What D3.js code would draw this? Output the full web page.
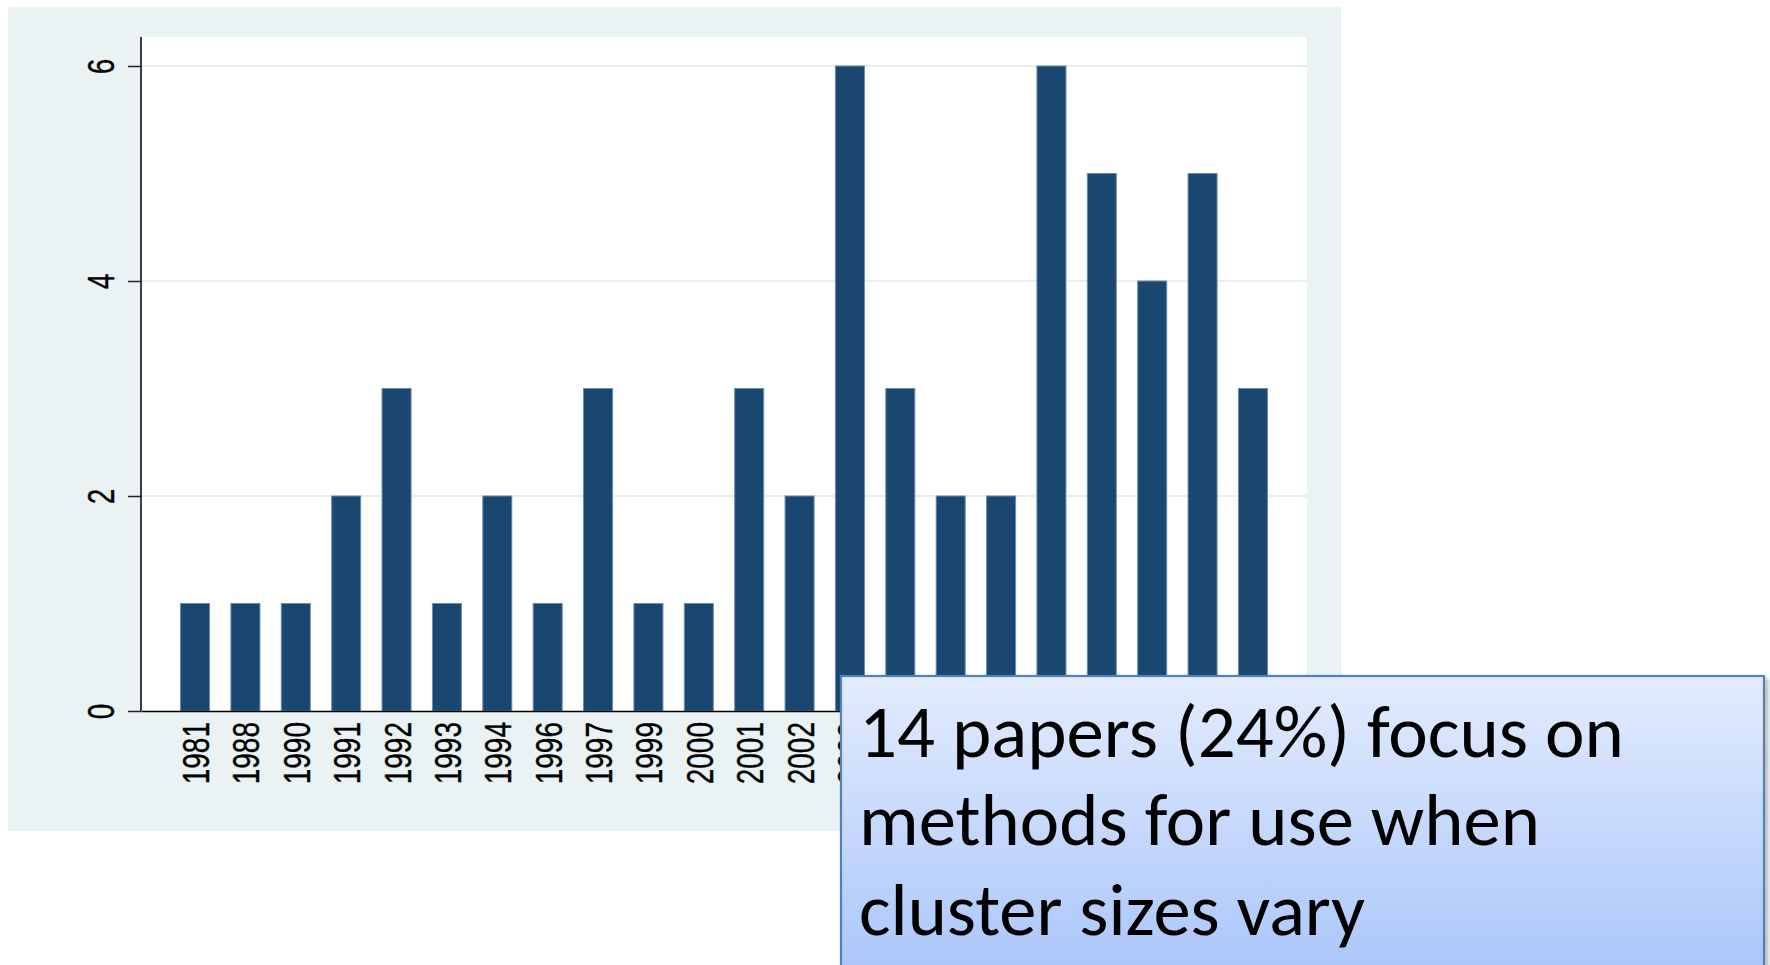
<!DOCTYPE html>
<html>
<head>
<meta charset="utf-8">
<script src="https://cdn.jsdelivr.net/npm/d3@7"></script>
<style>
  html, body { margin: 0; padding: 0; background: #ffffff; }
  svg { display: block; }
</style>
</head>
<body>
<svg id="chart" width="1770" height="965"></svg>
<script>
// ---- data ----
const years = ["1981","1988","1990","1991","1992","1993","1994","1996","1997","1999","2000","2001","2002","2003","2004","2005","2006","2007","2008","2009","2010","2011"];
const counts = [1,1,1,2,3,1,2,1,3,1,1,3,2,6,3,2,2,6,5,4,5,3];
const yTicks = [0,2,4,6];
const calloutLines = ["14 papers (24%) focus on", "methods for use when", "cluster sizes vary"];

// ---- layout ----
const panel = {x: 8, y: 7, w: 1333, h: 824};
const plot = {left: 141, right: 1307, top: 37, bottom: 711};
const svg = d3.select("#chart");

const defs = svg.append("defs");
const grad = defs.append("linearGradient").attr("id","boxgrad").attr("x1",0).attr("y1",0).attr("x2",0).attr("y2",1);
grad.append("stop").attr("offset","0%").attr("stop-color","#e3ecfd");
grad.append("stop").attr("offset","100%").attr("stop-color","#a6c3fa");
const shadow = defs.append("filter").attr("id","shadow").attr("x","-5%").attr("y","-5%").attr("width","115%").attr("height","115%");
shadow.append("feDropShadow").attr("dx",3).attr("dy",3).attr("stdDeviation",2).attr("flood-color","#000").attr("flood-opacity",0.3);

// graph region background
svg.append("rect").attr("x",panel.x).attr("y",panel.y).attr("width",panel.w).attr("height",panel.h).attr("fill","#eaf2f3");
// plot region
svg.append("rect").attr("x",plot.left).attr("y",plot.top).attr("width",plot.right-plot.left).attr("height",plot.bottom-plot.top).attr("fill","#ffffff");

// scales
const x = d3.scaleBand().domain(years).range([plot.left, plot.right]).paddingInner(0.404).paddingOuter(0.775);
const y = d3.scaleLinear().domain([0,6]).range([plot.bottom, 66]);

// grid
svg.append("g").selectAll("line").data(yTicks.filter(d => d > 0)).join("line")
  .attr("x1", plot.left).attr("x2", plot.right)
  .attr("y1", d => y(d)).attr("y2", d => y(d))
  .attr("stroke","#e6eff1").attr("stroke-width",2);

// bars
svg.append("g").selectAll("rect").data(years.map((yr,i)=>({yr, v: counts[i]}))).join("rect")
  .attr("x", d => x(d.yr) + 0.5)
  .attr("y", d => y(d.v))
  .attr("width", x.bandwidth() - 1)
  .attr("height", d => y(0) - y(d.v))
  .attr("fill","#1a476f")
  .attr("stroke","#6a8cae").attr("stroke-width",1);

const labelFont = "'Liberation Sans', Arial, Helvetica, sans-serif";
const sx = 1.35;

// y axis
const yAxis = svg.append("g").attr("transform",`translate(${plot.left},0)`)
  .call(d3.axisLeft(y).tickValues(yTicks).tickSize(13).tickFormat(d3.format("d")));
yAxis.select(".domain").remove();
yAxis.selectAll(".tick line").attr("stroke","#222").attr("stroke-width",1.5);
yAxis.selectAll(".tick text")
  .attr("x", null).attr("dy", null)
  .attr("transform", `translate(-27,0) scale(${sx},1) rotate(-90)`)
  .attr("text-anchor","middle")
  .attr("font-family", labelFont).attr("font-size", 28).attr("fill","#000")
  .attr("stroke","#000").attr("stroke-width",0.3);
svg.append("line").attr("x1",plot.left).attr("x2",plot.left).attr("y1",plot.top).attr("y2",plot.bottom)
  .attr("stroke","#000").attr("stroke-width",1.5);

// x axis
const xAxis = svg.append("g").attr("transform",`translate(0,${plot.bottom})`)
  .call(d3.axisBottom(x).tickSize(0).tickSizeOuter(0));
xAxis.select(".domain").attr("stroke","#000").attr("stroke-width",1.5);
xAxis.selectAll(".tick text")
  .attr("y", null).attr("dy", null)
  .attr("transform", `translate(14,11) scale(${sx},1) rotate(-90)`)
  .attr("text-anchor","end")
  .attr("font-family", labelFont).attr("font-size", 28).attr("fill","#000")
  .attr("stroke","#000").attr("stroke-width",0.3);

// callout box
const box = {x: 841, y: 676, w: 923, h: 320};
svg.append("rect").attr("x",box.x).attr("y",box.y).attr("width",box.w).attr("height",box.h)
  .attr("fill","url(#boxgrad)").attr("stroke","#4f81bd").attr("stroke-width",2.2)
  .attr("filter","url(#shadow)");

const lineTarget = [765, 681, 506];
const baselines = [757, 845, 935];
svg.append("g").selectAll("text").data(calloutLines).join("text")
  .attr("x", 859).attr("y", (d,i) => baselines[i])
  .attr("font-family","Carlito, Calibri, Lato, 'Open Sans', sans-serif")
  .attr("font-size", 73).attr("fill","#000")
  .attr("textLength", (d,i) => lineTarget[i])
  .attr("lengthAdjust","spacingAndGlyphs")
  .text(d => d);
</script>
</body>
</html>
